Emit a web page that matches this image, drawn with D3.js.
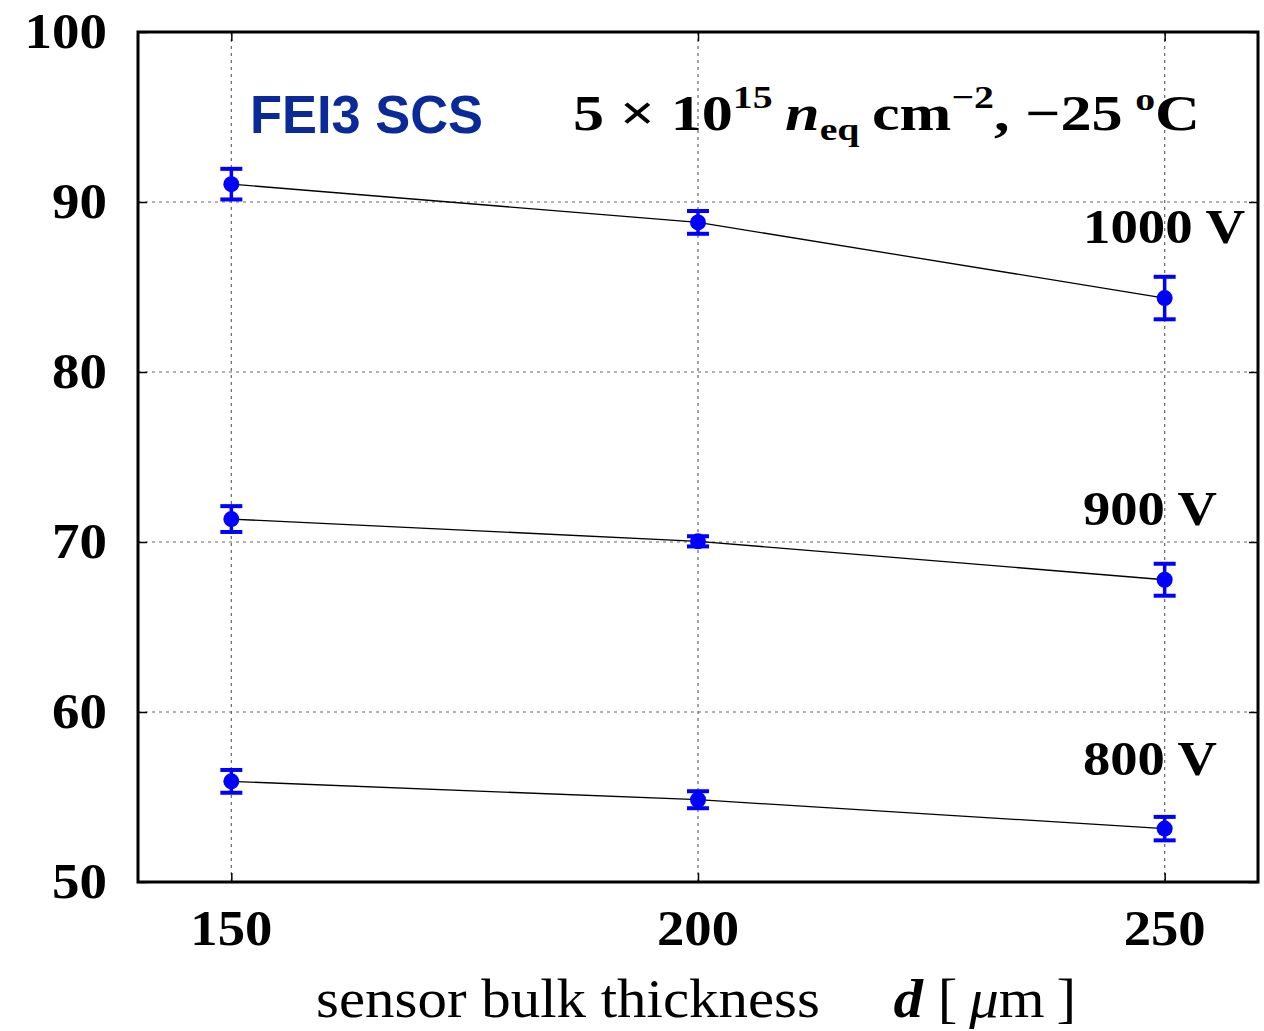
<!DOCTYPE html>
<html>
<head>
<meta charset="utf-8">
<script src="https://cdn.jsdelivr.net/npm/d3@7"></script>
<style>
  body { margin: 0; background: #fff; }
  svg text { font-family: "Liberation Serif", "DejaVu Serif", serif; }
</style>
</head>
<body>
<svg id="chart" width="1264" height="1031"></svg>
<script>
// data
var thickness = [150, 200, 250];
var voltages = ["1000 V", "900 V", "800 V"];
var values1000 = [91.05, 88.8, 84.35];
var errors1000 = [0.9, 0.67, 1.25];
var values900 = [71.35, 70.04, 67.78];
var errors900 = [0.76, 0.3, 0.94];
var values800 = [55.92, 54.84, 53.14];
var errors800 = [0.67, 0.5, 0.69];
var yTicks = [50, 60, 70, 80, 90, 100];
var xTicks = [150, 200, 250];

var series = [
  {name: voltages[0], v: values1000, e: errors1000},
  {name: voltages[1], v: values900, e: errors900},
  {name: voltages[2], v: values800, e: errors800}
];

var svg = d3.select("#chart");
var L = 138, R = 1258, T = 32, B = 882;

var x = d3.scaleLinear().domain([140, 260]).range([L, R]);
var y = d3.scaleLinear().domain([50, 100]).range([B, T]);

// grille pointillee
var grid = svg.append("g");
grid.selectAll(".gy").data(yTicks.slice(1, -1)).enter().append("line")
  .attr("x1", L).attr("x2", R)
  .attr("y1", d => y(d)).attr("y2", d => y(d))
  .attr("stroke", "#666").attr("stroke-width", 1.2).attr("stroke-dasharray", "3,4");
grid.selectAll(".gx").data(xTicks).enter().append("line")
  .attr("y1", T).attr("y2", B)
  .attr("x1", d => x(d)).attr("x2", d => x(d))
  .attr("stroke", "#666").attr("stroke-width", 1.2).attr("stroke-dasharray", "3,4");

// axes (ticks inside, both sides)
var tk = 9;
svg.append("g").attr("transform", "translate(" + L + ",0)")
  .call(d3.axisRight(y).tickValues(yTicks).tickSize(tk).tickFormat(""))
  .call(g => g.select(".domain").remove());
svg.append("g").attr("transform", "translate(" + R + ",0)")
  .call(d3.axisLeft(y).tickValues(yTicks).tickSize(tk).tickFormat(""))
  .call(g => g.select(".domain").remove());
svg.append("g").attr("transform", "translate(0," + B + ")")
  .call(d3.axisTop(x).tickValues(xTicks).tickSize(tk).tickFormat(""))
  .call(g => g.select(".domain").remove());
svg.append("g").attr("transform", "translate(0," + T + ")")
  .call(d3.axisBottom(x).tickValues(xTicks).tickSize(tk).tickFormat(""))
  .call(g => g.select(".domain").remove());
svg.selectAll(".tick line").attr("stroke", "#000").attr("stroke-width", 1.5);

// labels des ticks
svg.selectAll(".ylab").data(yTicks).enter().append("text")
  .attr("x", 107).attr("y", d => y(d) + 16)
  .attr("text-anchor", "end").attr("font-size", 50).attr("font-weight", "bold")
  .attr("textLength", d => String(d).length * 27.5).attr("lengthAdjust", "spacingAndGlyphs")
  .text(d => d);
svg.selectAll(".xlab").data(xTicks).enter().append("text")
  .attr("x", d => x(d)).attr("y", 945)
  .attr("text-anchor", "middle").attr("font-size", 50).attr("font-weight", "bold")
  .attr("textLength", 82).attr("lengthAdjust", "spacingAndGlyphs")
  .text(d => d);

// cadre
svg.append("rect").attr("x", L).attr("y", T).attr("width", R - L).attr("height", B - T)
  .attr("fill", "none").attr("stroke", "#000").attr("stroke-width", 3);

// series
var line = d3.line().x((d, i) => x(thickness[i])).y(d => y(d));
var blue = "#0000ff";
series.forEach(function(s) {
  var g = svg.append("g");
  g.append("path").attr("d", line(s.v)).attr("fill", "none")
    .attr("stroke", "#000").attr("stroke-width", 1.3);
  var pts = g.selectAll(".pt").data(s.v).enter().append("g");
  pts.append("line")
    .attr("x1", (d, i) => x(thickness[i])).attr("x2", (d, i) => x(thickness[i]))
    .attr("y1", (d, i) => y(d + s.e[i])).attr("y2", (d, i) => y(d - s.e[i]))
    .attr("stroke", blue).attr("stroke-width", 3.5);
  [1, -1].forEach(function(sg) {
    pts.append("line")
      .attr("x1", (d, i) => x(thickness[i]) - 11).attr("x2", (d, i) => x(thickness[i]) + 11)
      .attr("y1", (d, i) => y(d + sg * s.e[i])).attr("y2", (d, i) => y(d + sg * s.e[i]))
      .attr("stroke", blue).attr("stroke-width", 4);
  });
  pts.append("circle")
    .attr("cx", (d, i) => x(thickness[i])).attr("cy", d => y(d)).attr("r", 8)
    .attr("fill", blue);
});

// noms des tensions
var vlab = [{t: voltages[0], x: 1083, y: 243, w: 162}, {t: voltages[1], x: 1083, y: 525, w: 134}, {t: voltages[2], x: 1083, y: 775, w: 134}];
svg.selectAll(".vlab").data(vlab).enter().append("text")
  .attr("x", d => d.x).attr("y", d => d.y)
  .attr("font-size", 48).attr("font-weight", "bold")
  .attr("textLength", d => d.w).attr("lengthAdjust", "spacingAndGlyphs")
  .text(d => d.t);

// titre
svg.append("text").attr("x", 250).attr("y", 133)
  .style("font-family", "Liberation Sans, Arial, sans-serif")
  .attr("font-size", 54).attr("font-weight", "bold").attr("fill", "#0a2a9a")
  .attr("textLength", 233).attr("lengthAdjust", "spacingAndGlyphs")
  .text("FEI3 SCS");

var ann = svg.append("text").attr("x", 573).attr("y", 130)
  .attr("font-size", 50).attr("font-weight", "bold")
  .attr("textLength", 627).attr("lengthAdjust", "spacingAndGlyphs");
ann.append("tspan").text("5 \u00d7 10");
ann.append("tspan").attr("font-size", 32).attr("dy", -22).text("15");
ann.append("tspan").attr("dy", 22).attr("font-style", "italic").text("\u2009n");
ann.append("tspan").attr("font-size", 32).attr("dy", 10).text("eq");
ann.append("tspan").attr("dy", -10).text("\u2009cm");
ann.append("tspan").attr("font-size", 32).attr("dy", -22).text("\u22122");
ann.append("tspan").attr("dy", 22).text(", \u221225\u2009");
ann.append("tspan").attr("font-size", 32).attr("dy", -20).text("o");
ann.append("tspan").attr("dy", 20).text("C");

// titre de l'axe x
var xt = svg.append("text").attr("x", 316).attr("y", 1017).attr("font-size", 54)
  .attr("textLength", 760).attr("lengthAdjust", "spacingAndGlyphs");
xt.append("tspan").text("sensor bulk thickness\u2003 ");
xt.append("tspan").attr("font-style", "italic").attr("font-weight", "bold").text("d");
xt.append("tspan").text(" [\u2009");
xt.append("tspan").attr("font-style", "italic").text("\u03bc");
xt.append("tspan").text("m\u2009]");
</script>
</body>
</html>
